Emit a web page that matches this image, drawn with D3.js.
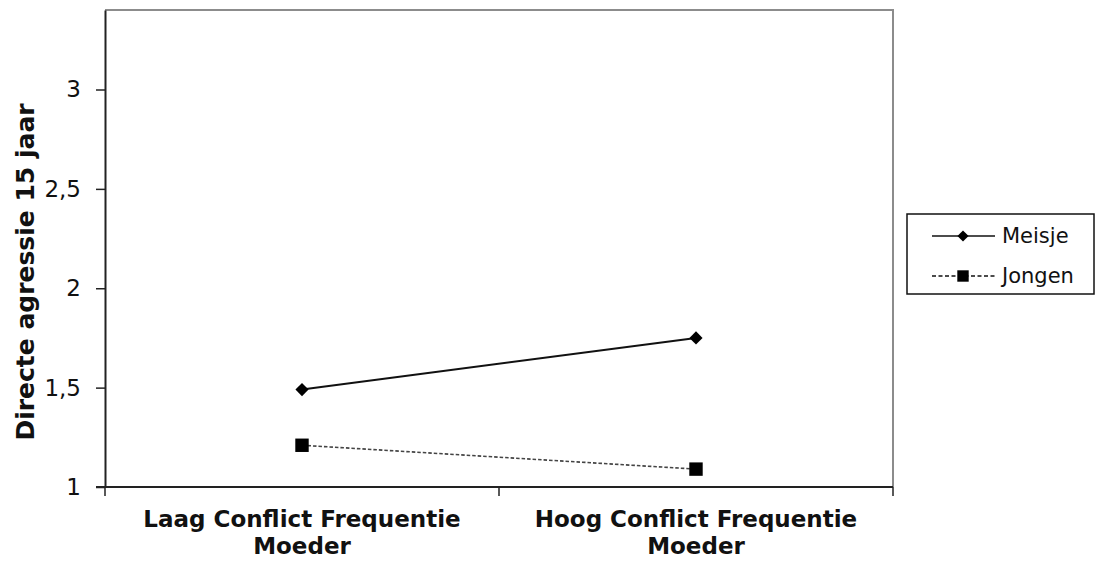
<!DOCTYPE html>
<html>
<head>
<meta charset="utf-8">
<script src="https://cdn.jsdelivr.net/npm/d3@7"></script>
<style>
  body { margin: 0; background: #fff; }
  svg { display: block; }
  text { font-family: "DejaVu Sans", Verdana, sans-serif; fill: #111; }
</style>
</head>
<body>
<svg id="chart" width="1096" height="566"></svg>
<script>
// waarden
const categories = ["Laag Conflict Frequentie|Moeder", "Hoog Conflict Frequentie|Moeder"];
const meisje = [1.49, 1.75];
const jongen = [1.21, 1.09];
const yTicks = [1, 1.5, 2, 2.5, 3];
const seriesNames = ["Meisje", "Jongen"];

const svg = d3.select("#chart");
const pLeft = 105, pRight = 893, pTop = 10, pBottom = 487;

const x = d3.scaleBand().domain(categories).range([pLeft, pRight]);
const y = d3.scaleLinear().domain([1, 3.4]).range([pBottom, pTop]);

// rand rond plotgebied (grijs boven/rechts)
svg.append("path")
  .attr("d", `M${pLeft},${pTop}H${pRight}V${pBottom}`)
  .attr("fill", "none").attr("stroke", "#8c8c8c").attr("stroke-width", 2);

// y-as
const yAxis = svg.append("g").attr("transform", `translate(${pLeft},0)`)
  .call(d3.axisLeft(y).tickValues(yTicks).tickSizeInner(9).tickSizeOuter(0).tickPadding(15)
    .tickFormat(d => String(d).replace(".", ",")));
yAxis.select(".domain").attr("stroke", "#222").attr("stroke-width", 2);
yAxis.selectAll(".tick line").attr("stroke", "#222").attr("stroke-width", 1.5);
yAxis.selectAll("text").attr("font-size", 23).attr("fill", "#222")
  .style("font-family", "'DejaVu Sans', Verdana, sans-serif");

// x-as met streepjes op de grenzen
svg.append("line").attr("x1", pLeft - 9).attr("x2", pRight).attr("y1", pBottom).attr("y2", pBottom)
  .attr("stroke", "#222").attr("stroke-width", 2);
const bounds = [pLeft, ...categories.map(c => x(c) + x.bandwidth())];
svg.selectAll(".xtick").data(bounds).enter().append("line")
  .attr("x1", d => d).attr("x2", d => d).attr("y1", pBottom).attr("y2", pBottom + 9)
  .attr("stroke", "#222").attr("stroke-width", 1.5);

svg.selectAll(".xlab").data(categories).enter().append("text")
  .attr("text-anchor", "middle")
  .attr("font-weight", "bold").attr("font-size", 23)
  .attr("x", d => x(d) + x.bandwidth() / 2)
  .attr("y", pBottom + 40)
  .each(function (d) {
    const parts = d.split("|");
    d3.select(this).selectAll("tspan").data(parts).enter().append("tspan")
      .attr("x", x(d) + x.bandwidth() / 2)
      .attr("dy", (p, i) => i === 0 ? 0 : 27)
      .text(p => p);
  });

// y-as titel
svg.append("text")
  .attr("transform", "translate(34,272) rotate(-90)")
  .attr("text-anchor", "middle").attr("font-weight", "bold").attr("font-size", 25)
  .text("Directe agressie 15 jaar");

// lijnen
const cx = d => x(d) + x.bandwidth() / 2;
const line = d3.line().x(d => cx(d.c)).y(d => y(d.v));
const toPts = vals => categories.map((c, i) => ({ c, v: vals[i] }));

svg.append("path").datum(toPts(meisje)).attr("d", line)
  .attr("fill", "none").attr("stroke", "#111").attr("stroke-width", 2);
svg.append("path").datum(toPts(jongen)).attr("d", line)
  .attr("fill", "none").attr("stroke", "#444").attr("stroke-width", 1.6)
  .attr("stroke-dasharray", "3.5,2");

const diamond = d3.symbol().type(d3.symbolDiamond2).size(110);
const square = d3.symbol().type(d3.symbolSquare).size(180);

svg.selectAll(".pm").data(toPts(meisje)).enter().append("path")
  .attr("d", diamond)
  .attr("transform", d => `translate(${cx(d.c)},${y(d.v)})`)
  .attr("fill", "#000");
svg.selectAll(".pj").data(toPts(jongen)).enter().append("path")
  .attr("d", square)
  .attr("transform", d => `translate(${cx(d.c)},${y(d.v)})`)
  .attr("fill", "#000");

// legenda
const lg = svg.append("g").attr("transform", "translate(907,214)");
lg.append("rect").attr("width", 187).attr("height", 80)
  .attr("fill", "#fff").attr("stroke", "#111").attr("stroke-width", 1.5);
const items = lg.selectAll(".li").data(seriesNames).enter().append("g")
  .attr("transform", (d, i) => `translate(0,${22 + i * 40})`);
items.append("line").attr("x1", 25).attr("x2", (d, i) => i ? 90 : 88).attr("y1", 0).attr("y2", 0)
  .attr("stroke", "#111").attr("stroke-width", (d, i) => i ? 1.3 : 1.5)
  .attr("stroke-dasharray", (d, i) => i ? "4,2.5" : null);
items.append("path")
  .attr("d", (d, i) => i ? square() : diamond())
  .attr("transform", "translate(56,0) scale(0.85)")
  .attr("fill", "#000");
items.append("text").attr("x", 95).attr("y", 7).attr("font-size", 21).attr("fill", "#222")
  .text(d => d);
</script>
</body>
</html>
